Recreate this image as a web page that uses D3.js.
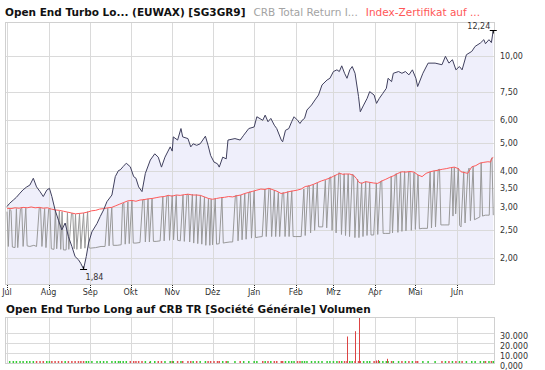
<!DOCTYPE html>
<html><head><meta charset="utf-8">
<script src="https://cdn.jsdelivr.net/npm/d3@7"></script>
<style>body{margin:0;background:#fff}svg{display:block}text{font-family:"DejaVu Sans",Verdana,sans-serif}</style>
</head><body><svg id="c" width="545" height="370"></svg>
<script>
// ---------- DATA (day offsets from 2010-07-01) ----------
const monthLabels = ["Jul","Aug","Sep","Okt","Nov","Dez","Jan","Feb","Mrz","Apr","Mai","Jun"];
const yTicks = [2, 2.5, 3, 3.5, 4, 5, 6, 7.5, 10];
const volTicks = [0, 10000, 20000, 30000];
const volTickLabels = ["0,000", "10.000", "20.000", "30.000"];
const legendTitle = "Open End Turbo Lo... (EUWAX) [SG3GR9]";
const legendGray = "CRB Total Return I...";
const legendRed = "Index-Zertifikat auf ...";
const volumeTitle = "Open End Turbo Long auf CRB TR [Société Générale] Volumen";

const turbo = [[0,3.02],[2,3.10],[4.7,3.18],[7,3.25],[9.7,3.36],[12,3.45],[14.7,3.53],[17,3.58],[19.6,3.78],[22,3.53],[24.6,3.40],[27,3.27],[29.6,3.44],[31.6,3.49],[33.4,3.27],[35.8,2.94],[38.3,2.71],[40.8,2.51],[43.3,2.65],[45.7,2.38],[48.3,2.20],[50.7,2.03],[53.2,1.98],[55,1.92],[57,1.84],[59,2.03],[60.7,2.26],[63.2,2.47],[67,2.64],[69.4,2.79],[71.9,2.94],[74.4,3.14],[78.1,3.31],[80.6,3.83],[83,4.02],[84.3,4.04],[86.5,4.15],[88.8,4.26],[91.8,4.14],[94.3,3.83],[96,3.78],[98,3.53],[100.5,3.40],[103,3.93],[106.7,4.37],[110,4.59],[112.6,4.47],[115,4.13],[117.6,4.47],[121.5,4.85],[123,4.69],[123.8,5.25],[127,5.12],[129.5,5.61],[130.8,5.25],[134.7,5.18],[136.8,4.85],[138.6,4.97],[141.2,4.91],[143.8,4.97],[147.7,5.28],[149.7,4.91],[151.6,4.53],[154.1,4.30],[156.7,4.24],[158,4.13],[160.6,4.47],[163.2,4.41],[164.5,5.12],[169.7,5.18],[173.6,5.12],[176.2,5.32],[180,5.61],[184,5.68],[186,6.16],[190.4,5.99],[192.2,6.24],[194.3,5.92],[196.4,6.08],[199,5.76],[200.8,5.61],[204.2,5.12],[205.2,5.05],[207.3,5.53],[209.8,5.61],[211.9,5.92],[213.7,6.16],[216.3,5.99],[218.1,5.84],[219.7,5.99],[221.5,6.08],[223.3,6.50],[226.7,6.76],[229.3,7.04],[231.9,7.32],[234.5,7.93],[238.3,8.25],[240.4,8.36],[243,8.82],[245.6,8.94],[247.4,8.82],[249.2,9.23],[251.3,8.70],[253.1,8.36],[255.2,8.94],[257,9.18],[259.1,8.70],[261.7,7.23],[263,6.41],[265.5,6.76],[268.1,7.13],[270,7.52],[273.3,7.32],[275.1,6.85],[277.2,7.13],[279.8,7.42],[282.4,7.72],[283.7,8.36],[286.3,8.14],[287.6,8.70],[291.5,8.82],[294,8.70],[296.6,8.82],[299.2,8.59],[301.8,8.94],[304.4,8.36],[305.7,7.83],[309.6,8.70],[313.5,9.43],[318.7,9.43],[323.8,9.31],[326.4,9.95],[329,9.43],[331.6,9.69],[334.2,8.94],[336.8,9.18],[338.8,8.94],[342,10.08],[346,10.35],[348.5,10.77],[352.4,11.06],[355,11.36],[356.2,11.0],[358.8,11.36],[360.6,11.1],[362,12.24]];

const indexCert = [[0,2.98],[3,2.97],[6,2.99],[9,2.98],[12,3.0],[15,2.99],[18,3.01],[21,2.99],[24,3.0],[27,2.98],[30,2.99],[33,2.96],[36,2.94],[39,2.93],[42,2.91],[45,2.89],[48,2.87],[51,2.85],[54,2.86],[57,2.87],[60,2.89],[63,2.92],[66,2.93],[69,2.96],[72,2.97],[75,2.99],[78,3.0],[81,3.04],[84,3.08],[87,3.12],[90,3.16],[93,3.17],[96,3.15],[99,3.18],[102,3.19],[105,3.21],[108,3.22],[111,3.24],[114,3.26],[117,3.27],[120,3.30],[123,3.28],[126,3.31],[129,3.30],[132,3.32],[135,3.33],[138,3.31],[141,3.31],[144,3.30],[147,3.26],[150,3.22],[153,3.20],[156,3.22],[159,3.24],[162,3.25],[165,3.27],[168,3.26],[171,3.29],[174,3.31],[177,3.35],[180,3.38],[183,3.41],[186,3.44],[189,3.47],[192,3.46],[195,3.49],[198,3.45],[201,3.41],[204,3.35],[207,3.37],[210,3.40],[213,3.42],[216,3.44],[219,3.47],[222,3.54],[225,3.56],[228,3.60],[231,3.65],[234,3.70],[237,3.74],[240,3.78],[243,3.84],[246,3.90],[248,3.93],[250,3.90],[252,3.91],[255,3.91],[258,3.87],[260,3.78],[262,3.66],[264,3.63],[267,3.68],[270,3.66],[273,3.64],[276,3.63],[279,3.70],[282,3.75],[285,3.81],[288,3.86],[291,3.93],[294,3.98],[297,3.97],[300,3.99],[303,3.97],[306,3.88],[309,3.83],[312,3.93],[315,3.98],[318,4.01],[321,4.03],[324,4.06],[327,4.08],[330,4.11],[333,4.13],[336,4.08],[338,3.98],[341,3.95],[343,3.93],[346,4.14],[349,4.18],[352,4.26],[355,4.29],[358,4.31],[360,4.30],[361,4.43],[362,4.46]];

const crb = [[0,2.90],[1,2.20],[2,2.95],[3,2.93],[4,2.19],[6,2.18],[7,2.97],[8,2.18],[10,2.96],[11,2.99],[12,2.20],[14,2.98],[15,2.21],[17,2.20],[20,2.22],[22,2.20],[24,2.99],[25,2.98],[26,2.20],[28,2.97],[29,2.18],[31,2.96],[32,2.97],[33,2.16],[35,2.15],[36,2.94],[37,2.16],[39,2.92],[40,2.15],[41,2.90],[42,2.14],[44,2.14],[45,2.88],[46,2.15],[48,2.86],[49,2.85],[50,2.16],[51,2.84],[52,2.15],[54,2.86],[55,2.16],[57,2.87],[58,2.17],[60,2.90],[61,2.18],[62,2.17],[66,2.18],[70,2.20],[73,2.20],[75,2.98],[76,2.21],[78,3.0],[79,2.22],[82,2.22],[85,2.23],[86,3.08],[87,3.10],[88,2.24],[90,3.14],[91,2.25],[93,3.17],[94,2.26],[96,2.26],[99,2.27],[101,3.18],[102,3.20],[103,2.28],[105,3.21],[106,2.28],[108,3.22],[109,2.29],[111,2.29],[114,2.30],[116,3.26],[117,2.30],[119,3.28],[120,3.30],[121,2.31],[123,3.30],[124,2.32],[126,3.30],[127,2.31],[129,2.30],[131,3.31],[132,2.29],[134,3.33],[135,3.32],[136,2.28],[138,3.33],[139,2.26],[141,3.32],[142,2.25],[144,3.30],[145,2.24],[147,3.26],[148,2.22],[150,3.22],[151,2.22],[152,3.20],[153,2.23],[155,3.22],[156,2.24],[158,2.25],[160,3.25],[161,2.26],[163,2.27],[166,2.28],[168,2.28],[170,3.29],[171,3.30],[172,2.30],[174,3.31],[175,2.32],[177,3.35],[178,2.33],[180,3.38],[181,3.39],[182,2.35],[184,3.42],[185,2.36],[187,2.37],[190,2.38],[192,3.47],[193,2.38],[195,3.49],[196,3.48],[197,2.38],[199,3.44],[200,2.38],[202,3.38],[203,2.38],[205,3.36],[206,3.37],[207,2.38],[209,3.40],[210,2.38],[212,3.42],[213,2.38],[215,2.38],[219,2.38],[221,3.47],[222,2.40],[224,3.55],[225,3.56],[226,2.45],[228,3.60],[229,2.50],[231,3.65],[232,2.57],[235,2.57],[237,3.72],[238,2.55],[240,3.80],[241,3.82],[242,2.50],[244,3.88],[245,2.45],[247,3.95],[248,3.93],[249,2.42],[251,3.92],[252,2.40],[254,3.91],[255,2.38],[257,3.90],[258,3.88],[259,2.36],[261,3.75],[262,2.36],[264,3.65],[265,2.38],[267,3.68],[268,2.40],[270,3.66],[271,2.41],[273,2.41],[275,3.63],[276,2.42],[278,3.68],[279,3.70],[280,2.44],[282,2.44],[285,2.44],[286,3.83],[287,2.45],[289,3.90],[290,3.92],[291,2.46],[293,3.98],[294,2.48],[296,3.99],[297,2.49],[299,3.98],[300,3.98],[301,2.50],[303,3.95],[304,2.52],[306,3.88],[307,2.53],[309,2.54],[313,2.54],[315,3.98],[316,2.55],[318,4.01],[319,2.57],[321,4.05],[322,4.06],[323,2.61],[326,2.61],[329,2.61],[331,4.11],[332,2.80],[333,4.12],[334,2.85],[336,4.10],[337,2.60],[338,2.57],[340,3.98],[341,2.65],[343,3.95],[344,4.10],[345,2.70],[347,4.15],[348,2.72],[350,2.75],[352,2.78],[353,4.28],[354,2.80],[356,2.82],[358,2.82],[359,2.82],[360,4.35],[361,4.45],[362,2.82]];

const volDays = [106, 253, 259, 262, 275, 276, 283];
const volValues = [1000, 26500, 31800, 47000, 2500, 3000, 4200];

// ---------- SETUP ----------
const base = new Date(2010, 6, 1);
const toDate = d => new Date(base.getTime() + d * 86400000);
const monthDates = monthLabels.map((m, i) => new Date(2010, 6 + i, 1));
const svg = d3.select("#c");
const P = {l: 5, r: 495, t: 22, b: 284};
const V = {t: 317, b: 363};
const x = d3.scaleTime().domain([monthDates[0], monthDates[11]]).range([7, 457]);
const y = d3.scaleLog().domain([1.633, 13.07]).range([P.b, P.t]);
const yv = d3.scaleLinear().domain([0, 46000]).range([V.b, V.t]);
const fmt2 = v => d3.format(".2f")(v).replace(".", ",");
const GRID = "#dadada";

// legend
let tx = 5;
[[legendTitle, "#111", "bold"], [legendGray, "#a3a3a3", "normal"], [legendRed, "#ff5757", "normal"]].forEach(([t, c, w]) => {
  const el = svg.append("text").attr("x", tx).attr("y", 16).attr("font-size", 10.5)
    .attr("font-weight", w).attr("fill", c).text(t);
  tx += el.node().getComputedTextLength() + 8;
});

// clip
svg.append("clipPath").attr("id", "pc").append("rect")
  .attr("x", P.l).attr("y", P.t).attr("width", P.r - P.l).attr("height", P.b - P.t);

const plot = svg.append("g").attr("clip-path", "url(#pc)");
plot.append("path").datum(turbo)
  .attr("d", d3.area().x(d => x(toDate(d[0]))).y0(P.b).y1(d => y(d[1])))
  .attr("fill", "#efeffb");

plot.selectAll(".vg").data(monthDates).join("line")
  .attr("x1", d => Math.round(x(d)) + 0.5).attr("x2", d => Math.round(x(d)) + 0.5)
  .attr("y1", P.t).attr("y2", P.b).attr("stroke", GRID);
plot.selectAll(".hg").data(yTicks).join("line")
  .attr("x1", P.l).attr("x2", P.r)
  .attr("y1", d => Math.round(y(d)) + 0.5).attr("y2", d => Math.round(y(d)) + 0.5).attr("stroke", GRID);

const line = d3.line().x(d => x(toDate(d[0]))).y(d => y(d[1]));
plot.append("path").datum(crb).attr("d", line).attr("fill", "none").attr("stroke", "#999").attr("stroke-width", 1);
plot.append("path").datum(indexCert).attr("d", line).attr("fill", "none").attr("stroke", "#ff5a5a").attr("stroke-width", 1);
plot.append("path").datum(turbo).attr("d", line).attr("fill", "none").attr("stroke", "#40405e").attr("stroke-width", 1);

svg.append("rect").attr("x", P.l + 0.5).attr("y", P.t + 0.5).attr("width", P.r - P.l - 1).attr("height", P.b - P.t)
  .attr("fill", "none").attr("stroke", "#d0d0d0");

const maxP = turbo.reduce((a, b) => b[1] > a[1] ? b : a);
const minP = turbo.reduce((a, b) => b[1] < a[1] ? b : a);
[[maxP, "max"], [minP, "min"]].forEach(([p, k]) => {
  const px = x(toDate(p[0])), py = Math.round(y(p[1])) + 0.5;
  svg.append("line").attr("x1", px - 3.5).attr("x2", px + 3.5).attr("y1", py).attr("y2", py).attr("stroke", "#000");
  svg.append("line").attr("x1", px).attr("x2", px).attr("y1", py).attr("y2", k === "max" ? py + 3 : py - 3).attr("stroke", "#000");
  if (k === "max") svg.append("text").attr("x", px - 3).attr("y", py - 1.5).attr("text-anchor", "end")
    .attr("font-size", 8).attr("fill", "#333").text(fmt2(p[1]));
  else svg.append("text").attr("x", px + 2).attr("y", py + 10).attr("font-size", 8).attr("fill", "#333").text(fmt2(p[1]));
});

svg.selectAll(".yl").data(yTicks).join("text").attr("x", 500).attr("y", d => y(d) + 3)
  .attr("font-size", 8).attr("fill", "#333").text(fmt2);

svg.selectAll(".xt").data(monthDates).join("line")
  .attr("x1", d => Math.round(x(d)) + 0.5).attr("x2", d => Math.round(x(d)) + 0.5)
  .attr("y1", P.b + 1).attr("y2", P.b + 7).attr("stroke", "#222").attr("stroke-dasharray", "1,1");
svg.selectAll(".xl").data(monthDates).join("text").attr("x", d => x(d)).attr("y", 295)
  .attr("text-anchor", "middle").attr("font-size", 8).attr("fill", "#333").text((d, i) => monthLabels[i]);

// ---------- VOLUME ----------
svg.append("text").attr("x", 6).attr("y", 313).attr("font-size", 10.5).attr("font-weight", "bold")
  .attr("fill", "#111").text(volumeTitle);
svg.selectAll(".vvg").data(monthDates).join("line")
  .attr("x1", d => Math.round(x(d)) + 0.5).attr("x2", d => Math.round(x(d)) + 0.5)
  .attr("y1", V.t).attr("y2", V.b).attr("stroke", GRID);
svg.selectAll(".vhg").data(volTicks.slice(1)).join("line")
  .attr("x1", P.l).attr("x2", P.r)
  .attr("y1", d => Math.round(yv(d)) + 0.5).attr("y2", d => Math.round(yv(d)) + 0.5).attr("stroke", GRID);
svg.append("rect").attr("x", P.l + 0.5).attr("y", V.t + 0.5).attr("width", P.r - P.l - 1).attr("height", V.b - V.t)
  .attr("fill", "none").attr("stroke", "#d0d0d0");
svg.selectAll(".vm").data(turbo.slice(1)).join("rect")
  .attr("x", d => x(toDate(d[0])) - 0.75).attr("y", V.b - 2).attr("width", 1.5).attr("height", 2)
  .attr("fill", (d, i) => d[1] >= turbo[i][1] ? "#33cc33" : "#e05050");
svg.append("clipPath").attr("id", "vc").append("rect").attr("x", P.l).attr("y", V.t + 1).attr("width", P.r - P.l).attr("height", V.b - V.t);
svg.append("g").attr("clip-path", "url(#vc)").selectAll(".vb").data(volDays).join("line")
  .attr("x1", d => Math.round(x(toDate(d))) + 0.5).attr("x2", d => Math.round(x(toDate(d))) + 0.5)
  .attr("y1", V.b).attr("y2", (d, i) => yv(volValues[i])).attr("stroke", "#dd4444");
svg.selectAll(".vl").data(volTicks).join("text").attr("x", 500).attr("y", d => yv(d) + 6)
  .attr("font-size", 8).attr("fill", "#333").text((d, i) => volTickLabels[i]);
</script></body></html>
